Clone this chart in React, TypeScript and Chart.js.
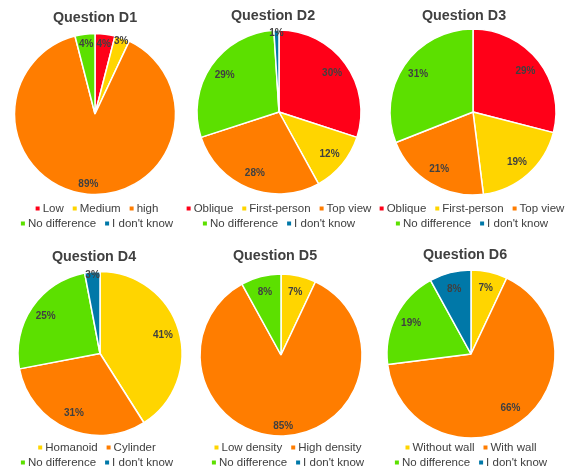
import React, { useEffect, useRef } from "react";
import { Chart, registerables } from "chart.js";

Chart.register(...registerables);

// ---------- data ----------
const d1Labels = ["Low", "Medium", "high", "No difference", "I don't know"];
const d1Values = [4, 3, 89, 4, 0];

const d2Labels = ["Oblique", "First-person", "Top view", "No difference", "I don't know"];
const d2Values = [30, 12, 28, 29, 1];

const d3Labels = ["Oblique", "First-person", "Top view", "No difference", "I don't know"];
const d3Values = [29, 19, 21, 31, 0];

const d4Labels = ["Homanoid", "Cylinder", "No difference", "I don't know"];
const d4Values = [41, 31, 25, 3];

const d5Labels = ["Low density", "High density", "No difference", "I don't know"];
const d5Values = [7, 85, 8, 0];

const d6Labels = ["Without wall", "With wall", "No difference", "I don't know"];
const d6Values = [7, 66, 19, 8];

const RED = "#FF0018";
const YELLOW = "#FFD500";
const ORANGE = "#FF7D00";
const GREEN = "#5CE000";
const BLUE = "#0078A8";

const colors5 = [RED, YELLOW, ORANGE, GREEN, BLUE];
const colors4 = [YELLOW, ORANGE, GREEN, BLUE];

const FONT = "'Liberation Sans', Arial, sans-serif";
const W = 192;
const H = 237;
const PAD = 12;
const CW = W + 2 * PAD;

type Panel = {
  title: string;
  labels: string[];
  values: number[];
  colors: string[];
  left: number;
  top: number;
  cx: number;
  cy: number;
  r: number;
  titleX: number;
  titleY: number;
  legendX: number;
  legendY: number;
};

const panels: Panel[] = [
  { title: "Question D1", labels: d1Labels, values: d1Values, colors: colors5, left: 0, top: 0, cx: 95, cy: 114, r: 80.5, titleX: 95, titleY: 18, legendX: 97, legendY: 208.5 },
  { title: "Question D2", labels: d2Labels, values: d2Values, colors: colors5, left: 192, top: 0, cx: 87, cy: 112, r: 82, titleX: 81, titleY: 16.5, legendX: 87, legendY: 208.5 },
  { title: "Question D3", labels: d3Labels, values: d3Values, colors: colors5, left: 384, top: 0, cx: 89, cy: 112, r: 83, titleX: 80, titleY: 16.5, legendX: 88, legendY: 208.5 },
  { title: "Question D4", labels: d4Labels, values: d4Values, colors: colors4, left: 0, top: 237, cx: 100, cy: 116.5, r: 82, titleX: 94, titleY: 20, legendX: 97, legendY: 210.5 },
  { title: "Question D5", labels: d5Labels, values: d5Values, colors: colors4, left: 192, top: 237, cx: 89, cy: 118, r: 81, titleX: 83, titleY: 19, legendX: 96, legendY: 210.5 },
  { title: "Question D6", labels: d6Labels, values: d6Values, colors: colors4, left: 384, top: 237, cx: 87, cy: 117, r: 84, titleX: 81, titleY: 18.5, legendX: 87, legendY: 210.5 },
];

const decorPlugin = {
  id: "pieDecor",
  afterDatasetsDraw(chart: any, _args: any, opts: any) {
    const ctx = chart.ctx as CanvasRenderingContext2D;
    const meta = chart.getDatasetMeta(0);
    const ds = chart.data.datasets[0];
    const values = ds.data as number[];
    const total = values.reduce((a, b) => a + b, 0);
    ctx.save();

    // data labels
    ctx.font = `bold 10px ${FONT}`;
    ctx.fillStyle = "#404040";
    ctx.textAlign = "center";
    ctx.textBaseline = "middle";
    meta.data.forEach((arc: any, i: number) => {
      const v = values[i];
      if (!v) return;
      const pct = (v / total) * 100;
      const f = pct <= 3 ? 0.96 : pct < 6 ? 0.87 : pct > 80 ? 0.88 : 0.8;
      const mid = (arc.startAngle + arc.endAngle) / 2;
      ctx.fillText(
        Math.round(pct) + "%",
        arc.x + Math.cos(mid) * arc.outerRadius * f,
        arc.y + Math.sin(mid) * arc.outerRadius * f
      );
    });

    // title
    ctx.font = `bold 14.3px ${FONT}`;
    ctx.fillStyle = "#404040";
    ctx.textAlign = "center";
    ctx.fillText(opts.title, opts.titleX + PAD, opts.titleY);

    // legend
    ctx.font = `11.5px ${FONT}`;
    const box = 4;
    const boxGap = 3;
    const itemGap = 9;
    const maxW = W;
    const labels = chart.data.labels as string[];
    const bg = ds.backgroundColor as string[];
    const items = labels.map((t, i) => ({ t, c: bg[i], w: box + boxGap + ctx.measureText(t).width }));
    const rows: { t: string; c: string; w: number }[][] = [];
    let cur: { t: string; c: string; w: number }[] = [];
    let curW = 0;
    items.forEach((it) => {
      const add = cur.length ? itemGap + it.w : it.w;
      if (cur.length && curW + add > maxW) {
        rows.push(cur);
        cur = [it];
        curW = it.w;
      } else {
        cur.push(it);
        curW += add;
      }
    });
    if (cur.length) rows.push(cur);
    ctx.textAlign = "left";
    rows.forEach((row, ri) => {
      const rw = row.reduce((a, it) => a + it.w, 0) + itemGap * (row.length - 1);
      let x = opts.legendX + PAD - rw / 2;
      const y = opts.legendY + ri * 15;
      row.forEach((it) => {
        ctx.fillStyle = it.c;
        ctx.fillRect(x, y - box / 2, box, box);
        ctx.fillStyle = "#404040";
        ctx.fillText(it.t, x + box + boxGap, y + 0.5);
        x += it.w + itemGap;
      });
    });

    ctx.restore();
  },
};

function PiePanel({ p }: { p: Panel }) {
  const ref = useRef<HTMLCanvasElement | null>(null);
  useEffect(() => {
    if (!ref.current) return;
    const R0 = p.r + 2;
    const cx = p.cx + PAD;
    const chart = new Chart(ref.current, {
      type: "pie",
      data: {
        labels: p.labels,
        datasets: [
          {
            data: p.values,
            backgroundColor: p.colors,
            borderColor: "#FFFFFF",
            borderWidth: 1.5,
          },
        ],
      },
      options: {
        responsive: false,
        animation: false,
        devicePixelRatio: 1,
        radius: p.r,
        layout: {
          padding: {
            left: cx - R0,
            right: CW - (cx + R0),
            top: p.cy - R0,
            bottom: H - (p.cy + R0),
          },
        },
        plugins: {
          legend: { display: false },
          title: { display: false },
          tooltip: { enabled: false },
          pieDecor: {
            title: p.title,
            titleX: p.titleX,
            titleY: p.titleY,
            legendX: p.legendX,
            legendY: p.legendY,
          },
        } as any,
      } as any,
      plugins: [decorPlugin],
    });
    return () => chart.destroy();
  }, [p]);
  return (
    <canvas
      ref={ref}
      width={CW}
      height={H}
      style={{ position: "absolute", left: p.left - PAD, top: p.top, width: CW, height: H }}
    />
  );
}

export default function App() {
  return (
    <div style={{ position: "absolute", left: 0, top: 0, width: 576, height: 474, background: "#FFFFFF", overflow: "hidden" }}>
      {panels.map((p) => (
        <PiePanel key={p.title} p={p} />
      ))}
    </div>
  );
}
